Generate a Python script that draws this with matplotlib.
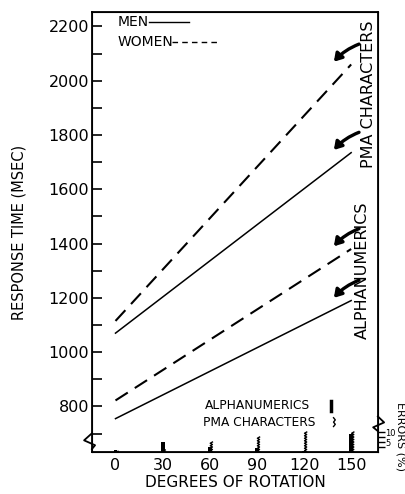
import numpy as np
import matplotlib
matplotlib.use('Agg')
import matplotlib.pyplot as plt
from matplotlib.lines import Line2D

# data
rotation = [0, 150]
men_pma = [1070, 1735]
women_pma = [1115, 2060]
men_alpha = [755, 1190]
women_alpha = [822, 1380]

err_rotation = [0, 30, 60, 90, 120, 150]
err_alpha = [1.0, 5.0, 2.5, 2.0, 0.5, 9.0]
err_pma = [0.3, 1.0, 5.0, 7.5, 10.0, 10.0]

plt.rcParams['font.family'] = 'DejaVu Sans'
fig = plt.figure(figsize=(4.05, 4.94), dpi=100)
ax = fig.add_axes([0.227, 0.085, 0.706, 0.89])

ax.plot(rotation, men_pma, color='black', lw=1.1)
ax.plot(rotation, women_pma, color='black', lw=1.5, dashes=(7, 4))
ax.plot(rotation, men_alpha, color='black', lw=1.1)
ax.plot(rotation, women_alpha, color='black', lw=1.5, dashes=(7, 4))

ax.set_xlim(-15, 167)
ax.set_ylim(632, 2252)
ax.set_xticks(err_rotation)
ax.set_yticks(range(800, 2201, 200))
ax.set_yticks(range(700, 2201, 100), minor=True)
ax.tick_params(axis='y', which='both', direction='in', length=7, width=1.2, labelsize=11.5, pad=2)
ax.tick_params(axis='x', length=0, labelsize=11.5, pad=4)
for s in ax.spines.values():
    s.set_linewidth(1.3)

ax.set_ylabel('RESPONSE TIME (MSEC)', fontsize=10.5, labelpad=16)
ax.set_xlabel('DEGREES OF ROTATION', fontsize=11, labelpad=2)

# error bars drawn in % scale on a twin axis
ex = ax.twinx()
ex.set_ylim(0, 220)
ex.set_yticks([2.5, 5, 7.5, 10])
ex.set_yticklabels(['', '5', '', '10'])
ex.tick_params(axis='y', direction='out', length=5, width=1.0, labelsize=6, pad=0.5)
ex.bar(err_rotation, err_alpha, width=2.5, color='black')
for r, h in zip(err_rotation, err_pma):
    yy = np.linspace(0, h, max(int(h * 1.6), 2) + 1)
    xx = r + 1 + 0.7 * (-1) ** np.arange(len(yy))
    ex.plot(xx, yy, color='black', lw=1.0)
ex.set_ylabel('ERRORS (%)', fontsize=8, rotation=-90, va='center')
ex.yaxis.set_label_coords(1.078, 0.035)

# axis break marks
ax.plot([-15, -20, -13, -15], [701, 675, 657, 643], color='black', lw=1.3, clip_on=False)
ax.plot([167, 171, 164, 167], [763, 741, 723, 709], color='black', lw=1.3, clip_on=False)

# curved arrows near line ends
for end in [women_pma[1], men_pma[1], women_alpha[1], men_alpha[1]]:
    ax.annotate('', xy=(139, end + 10), xytext=(155, end + 75),
                arrowprops=dict(arrowstyle='-|>,head_length=0.45,head_width=0.28', lw=2.4,
                                color='black', shrinkA=0, shrinkB=0,
                                connectionstyle='arc3,rad=0.12'))

ax.text(161, 1950, 'PMA CHARACTERS', rotation=90, ha='center', va='center', fontsize=11.5)
ax.text(157, 1300, 'ALPHANUMERICS', rotation=90, ha='center', va='center', fontsize=11.5)

# legends
ax.text(0.09, 0.977, 'MEN', transform=ax.transAxes, fontsize=10, va='center')
ax.add_line(Line2D([0.2, 0.34], [0.977, 0.977], transform=ax.transAxes, color='black', lw=1.0))
ax.text(0.09, 0.932, 'WOMEN', transform=ax.transAxes, fontsize=10, va='center')
ax.add_line(Line2D([0.28, 0.44], [0.932, 0.932], transform=ax.transAxes, color='black', lw=1.0, dashes=(4, 3)))

ax.text(0.395, 0.105, 'ALPHANUMERICS', transform=ax.transAxes, fontsize=8.8, va='center')
ax.add_line(Line2D([0.835, 0.835], [0.094, 0.116], transform=ax.transAxes, color='black', lw=2.5))
ax.text(0.388, 0.068, 'PMA CHARACTERS', transform=ax.transAxes, fontsize=8.8, va='center')
ax.add_line(Line2D([0.845, 0.851, 0.845, 0.851, 0.845], [0.058, 0.063, 0.068, 0.073, 0.078],
                   transform=ax.transAxes, color='black', lw=1.0))

fig.savefig('out.png', dpi=100)
